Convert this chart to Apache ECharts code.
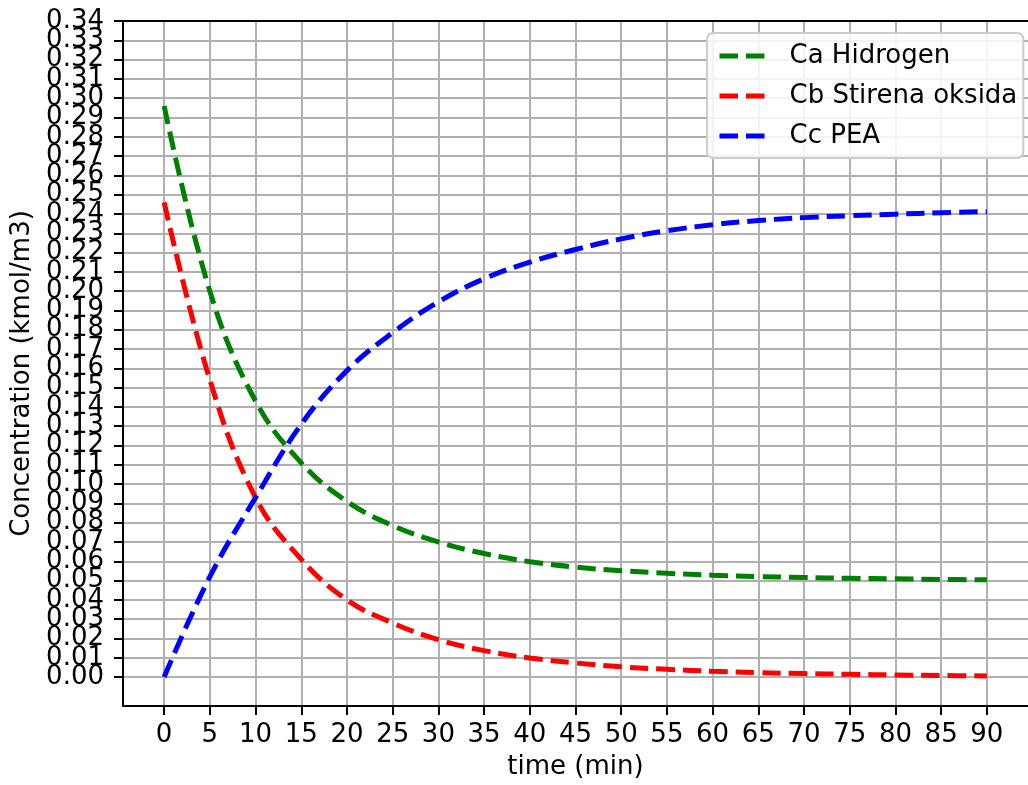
<!DOCTYPE html>
<html>
<head>
<meta charset="utf-8">
<title>Concentration vs time</title>
<script src="https://cdn.jsdelivr.net/npm/echarts@6/dist/echarts.min.js"></script>
<style>
    html, body { margin: 0; padding: 0; background: #fff; }
    #line-chart { width: 1028px; height: 785px; }
</style>
</head>
<body>
<div id="line-chart"></div>
<script>
// waktu (menit)
var timeData = [0, 5, 10, 15, 20, 25, 30, 35, 40, 45, 50, 55, 60, 65, 70, 75, 80, 85, 90];
// Ca Hidrogen
var caData = [0.296, 0.200, 0.143, 0.111, 0.091, 0.0785, 0.0700, 0.0640, 0.0598, 0.0570, 0.0551, 0.0538,
    0.0528, 0.0521, 0.0516, 0.0512, 0.0509, 0.0506, 0.0504];
// Cb Stirena oksida
var cbData = [0.246, 0.154, 0.093, 0.061, 0.040, 0.028, 0.0194, 0.0137, 0.0099, 0.0073, 0.0053, 0.0040,
    0.0030, 0.0023, 0.0018, 0.0014, 0.0011, 0.0008, 0.0006];
// Cc PEA
var ccData = [0.000, 0.052, 0.093, 0.131, 0.1588, 0.1785, 0.1944, 0.2064, 0.215, 0.2216, 0.2271, 0.2313,
    0.2344, 0.2366, 0.2381, 0.2391, 0.2399, 0.2406, 0.2412];
var seriesNames = ['Ca Hidrogen', 'Cb Stirena oksida', 'Cc PEA'];
var xTicks = [0, 5, 10, 15, 20, 25, 30, 35, 40, 45, 50, 55, 60, 65, 70, 75, 80, 85, 90];
var yTicks = [0.00, 0.01, 0.02, 0.03, 0.04, 0.05, 0.06, 0.07, 0.08, 0.09, 0.10, 0.11, 0.12, 0.13, 0.14, 0.15,
    0.16, 0.17, 0.18, 0.19, 0.20, 0.21, 0.22, 0.23, 0.24, 0.25, 0.26, 0.27, 0.28, 0.29, 0.30, 0.31, 0.32,
    0.33, 0.34];

var myChart = echarts.init(document.getElementById('line-chart'));
var fontName = 'DejaVu Sans';

// label y dibagi dua sumbu supaya tidak disembunyikan karena tumpang tindih
var yTicksEven = yTicks.filter(function (v, i) { return i % 2 === 0; });
var yTicksOdd = yTicks.filter(function (v, i) { return i % 2 === 1; });

var makeSeries = function (name, values, color) {
    var points = [];
    for (var i = 0; i < timeData.length; i++) {
        points.push([timeData[i], values[i]]);
    }
    return {
        name: name,
        type: 'line',
        data: points,
        smooth: 0.4,
        symbol: 'none',
        lineStyle: {
            color: color,
            width: 5,
            type: [18.5, 8]
        },
        itemStyle: {
            color: color
        }
    };
};

var yLabel = function (values) {
    return {
        customValues: values,
        showMinLabel: true,
        showMaxLabel: true,
        margin: 19,
        fontFamily: fontName,
        fontSize: 26,
        color: '#000',
        formatter: function (v) {
            return Number(v).toFixed(2);
        }
    };
};

var option = {
    animation: false,
    backgroundColor: '#ffffff',
    textStyle: {fontFamily: fontName, color: '#000'},
    grid: {
        left: 123,
        top: 21,
        width: 913,
        height: 685
    },
    legend: {
        orient: 'vertical',
        left: 707,
        top: 33,
        padding: [8, 6, 7, 10],
        itemWidth: 46,
        itemHeight: 14,
        itemGap: 10,
        data: seriesNames,
        backgroundColor: 'rgba(255,255,255,0.85)',
        borderColor: '#cccccc',
        borderWidth: 2,
        borderRadius: 6,
        lineStyle: {width: 5},
        itemStyle: {opacity: 0},
        textStyle: {
            fontFamily: fontName,
            fontSize: 26,
            lineHeight: 30,
            color: '#000',
            padding: [0, 0, 0, 19]
        }
    },
    xAxis: [{
        type: 'value',
        min: -4.5,
        max: 94.5,
        name: 'time (min)',
        nameLocation: 'middle',
        nameGap: 48,
        nameTextStyle: {fontFamily: fontName, fontSize: 26, color: '#000'},
        axisLine: {show: true, onZero: false, lineStyle: {color: '#000', width: 2}},
        axisTick: {show: true, inside: false, length: 9, customValues: xTicks, lineStyle: {color: '#000', width: 2}},
        axisLabel: {customValues: xTicks, margin: 16, fontFamily: fontName, fontSize: 26, color: '#000'},
        splitLine: {show: true, lineStyle: {color: '#b0b0b0', width: 2}}
    }, {
        // garis tepi atas
        type: 'value',
        position: 'top',
        min: -4.5,
        max: 94.5,
        axisLine: {show: true, onZero: false, lineStyle: {color: '#000', width: 2}},
        axisTick: {show: false},
        axisLabel: {show: false},
        splitLine: {show: false}
    }],
    yAxis: [{
        type: 'value',
        position: 'left',
        min: -0.015,
        max: 0.34,
        name: 'Concentration (kmol/m3)',
        nameLocation: 'middle',
        nameGap: 86,
        nameTextStyle: {fontFamily: fontName, fontSize: 26, color: '#000', padding: [0, 20, 0, 0]},
        axisLine: {show: true, onZero: false, lineStyle: {color: '#000', width: 2}},
        axisTick: {show: true, inside: false, length: 9, customValues: yTicks, lineStyle: {color: '#000', width: 2}},
        axisLabel: yLabel(yTicksEven),
        splitLine: {show: true, showMaxLine: false, lineStyle: {color: '#b0b0b0', width: 2}}
    }, {
        type: 'value',
        position: 'left',
        offset: 0,
        min: -0.015,
        max: 0.34,
        axisLine: {show: false, onZero: false},
        axisTick: {show: false},
        axisLabel: yLabel(yTicksOdd),
        splitLine: {show: false}
    }],
    series: [
        makeSeries(seriesNames[0], caData, '#008000'),
        makeSeries(seriesNames[1], cbData, '#ff0000'),
        makeSeries(seriesNames[2], ccData, '#0000ff')
    ]
};
myChart.setOption(option);
</script>
</body>
</html>
